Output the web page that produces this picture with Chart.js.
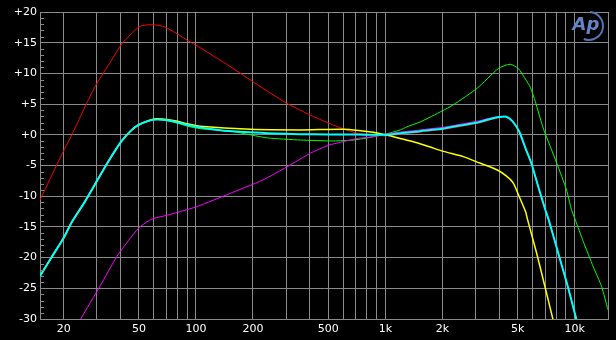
<!DOCTYPE html>
<html>
<head>
<meta charset="utf-8">
<script src="https://cdn.jsdelivr.net/npm/chart.js@4.4.1/dist/chart.umd.min.js"></script>
<style>
  html, body { margin: 0; padding: 0; background: #000; }
  canvas { display: block; }
</style>
</head>
<body>
<canvas id="response" width="616" height="340"></canvas>
<script>
// frequency response curves (Hz / dB)
const cyanHz = [15, 17.3, 20, 22.1, 26, 30, 34.5, 40.5, 45.8, 49.7, 56.2, 62, 70, 80, 90, 105, 150, 240, 356, 500, 700, 1000, 1200, 1500, 1730, 2000, 2580, 3150, 3500, 4000, 4350, 4700, 5100, 5500, 5900, 6500, 7000, 7300, 8300, 9200, 10200, 11000];
const cyanDb = [-23, -19.9, -16.8, -14.2, -10.8, -7.5, -4.3, -1.0, 0.8, 1.6, 2.3, 2.5, 2.4, 2.0, 1.6, 1.2, 0.6, 0.25, 0.1, 0.05, 0.05, 0, 0.25, 0.55, 0.8, 1.0, 1.6, 2.1, 2.5, 2.9, 2.95, 2.2, 0.5, -2.2, -4.6, -9, -12.2, -13.9, -19.9, -24.7, -30, -34];

const magentaHz = [15, 20, 24.6, 31.2, 38.2, 44.1, 49.7, 56.2, 60, 70.3, 82.7, 101, 150, 224, 303, 402, 502, 602, 709, 865, 1000, 1200, 1500, 1730, 2000, 2580, 3150, 3500, 4000, 4350, 4700, 5100, 5500, 5900, 6500, 7000, 7300, 8300, 9200, 10200, 11000];
const magentaDb = [-41, -35, -30, -24.6, -19.8, -17.2, -15.2, -14.0, -13.6, -13.1, -12.5, -11.7, -9.6, -7.4, -5.2, -3.0, -1.7, -1.1, -0.6, -0.3, 0.1, 0.45, 0.75, 1.0, 1.2, 1.8, 2.3, 2.65, 2.95, 2.95, 2.2, 0.5, -2.2, -4.6, -9, -12.2, -13.9, -19.9, -24.7, -30, -34];

const greenHz = [15, 17.3, 20, 22.1, 26, 30, 34.5, 40.5, 45.8, 49.7, 56.2, 62, 70, 80, 90, 105, 158, 238, 356, 534, 681, 870, 1000, 1200, 1300, 1530, 2000, 2290, 3060, 3955, 4560, 5040, 5540, 5840, 6200, 6820, 8040, 9060, 9620, 10090, 11110, 12540, 13870, 15000];
const greenDb = [-23, -19.9, -16.8, -14.2, -10.8, -7.5, -4.3, -1.0, 0.8, 1.6, 2.3, 2.5, 2.3, 1.9, 1.4, 1.0, 0.5, -0.5, -0.85, -1.0, -0.85, -0.3, 0.1, 0.8, 1.3, 2.1, 3.9, 4.9, 7.6, 10.8, 11.5, 10.8, 8.9, 7.7, 5.4, 1.1, -4.6, -9, -12.2, -13.9, -17.4, -21.5, -24.7, -28.5];

const yellowHz = [15, 17.3, 20, 22.1, 26, 30, 34.5, 40.5, 45.8, 49.7, 56.2, 62, 70, 80, 90, 105, 194, 356, 600, 725, 865, 1000, 1200, 1470, 1730, 2030, 2600, 3150, 3880, 4350, 4750, 5100, 5500, 5650, 6300, 7000, 7670, 8200];
const yellowDb = [-23, -19.9, -16.8, -14.2, -10.8, -7.5, -4.3, -1.0, 0.8, 1.6, 2.3, 2.6, 2.5, 2.2, 1.8, 1.4, 0.9, 0.8, 0.9, 0.7, 0.4, 0, -0.6, -1.3, -2.0, -2.7, -3.6, -4.6, -5.7, -6.7, -7.9, -10.1, -12.5, -13.9, -19.3, -25, -30, -34];

const redHz = [15, 18.2, 20, 22.1, 24.3, 27, 30, 35.4, 40.8, 50, 55, 61, 68, 80, 90, 105, 150, 233, 303, 402, 502, 602, 709, 865, 1000, 1200, 1500, 1730, 2000, 2580, 3150, 3500, 4000, 4350, 4700, 5100, 5500, 5900, 6500, 7000, 7300, 8300, 9200, 10200, 11000];
const redDb = [-10.6, -5.2, -2.6, 0, 2.7, 5.7, 8.4, 11.9, 14.9, 17.6, 17.9, 17.9, 17.6, 16.4, 15.4, 14.2, 11.2, 7.3, 5.1, 3.2, 1.9, 0.95, 0.25, 0, -0.2, 0.1, 0.4, 0.65, 0.85, 1.45, 1.95, 2.35, 2.8, 2.9, 2.2, 0.5, -2.2, -4.6, -9, -12.2, -13.9, -19.9, -24.7, -30, -34];

// axis ticks
const gridHz = [15, 20, 30, 40, 50, 60, 70, 80, 90, 100, 200, 300, 400, 500, 600, 700, 800, 900, 1000, 2000, 3000, 4000, 5000, 6000, 7000, 8000, 9000, 10000, 15000];
const labelHz = { 20: '20', 50: '50', 100: '100', 200: '200', 500: '500', 1000: '1k', 2000: '2k', 5000: '5k', 10000: '10k' };

const GRID = '#8a8a8a';

function pts(hz, db) {
    return hz.map((f, i) => ({ x: f, y: db[i] }));
}

function line(hz, db, color, width) {
    return {
        data: pts(hz, db),
        borderColor: color,
        borderWidth: width,
        pointRadius: 0,
        fill: false,
        tension: 0.2
    };
}

// little 1 dB ticks on the inside of the left edge, and the AP mark
const extras = {
    id: 'extras',
    afterDraw(chart) {
        const ctx = chart.ctx;
        const y = chart.scales.y;
        const left = chart.chartArea.left;
        ctx.save();
        ctx.strokeStyle = GRID;
        ctx.lineWidth = 1;
        ctx.beginPath();
        for (let v = -29; v < 20; v++) {
            if (v % 5 === 0) continue;
            const py = Math.round(y.getPixelForValue(v)) + 0.5;
            ctx.moveTo(left, py);
            ctx.lineTo(left + 4, py);
        }
        ctx.stroke();

        ctx.strokeStyle = '#5574b8';
        ctx.lineWidth = 2;
        ctx.beginPath();
        ctx.arc(589, 26, 14, -1.5, 1.95);
        ctx.stroke();
        ctx.fillStyle = '#6585c8';
        ctx.font = 'italic bold 18px "DejaVu Sans"';
        ctx.textAlign = 'center';
        ctx.textBaseline = 'middle';
        ctx.fillText('Ap', 586, 25);
        ctx.restore();
    }
};

new Chart(document.getElementById('response'), {
    type: 'line',
    data: {
        datasets: [
            line(cyanHz, cyanDb, '#00ffff', 2),
            line(magentaHz, magentaDb, '#ff00ff', 1),
            line(greenHz, greenDb, '#00ff00', 1),
            line(yellowHz, yellowDb, '#ffff00', 1.5),
            line(redHz, redDb, '#ff0000', 1)
        ]
    },
    options: {
        responsive: false,
        animation: false,
        layout: { padding: { top: 12, right: 8, left: 0, bottom: 0 } },
        plugins: { legend: { display: false }, tooltip: { enabled: false } },
        scales: {
            x: {
                type: 'logarithmic',
                min: 15,
                max: 15000,
                afterBuildTicks: (s) => { s.ticks = gridHz.map(v => ({ value: v })); },
                afterFit: (s) => { s.height = 21; },
                grid: { color: GRID, lineWidth: 1, drawTicks: false },
                border: { color: GRID },
                ticks: {
                    color: '#fff',
                    font: { family: 'DejaVu Sans', size: 11 },
                    padding: 4,
                    autoSkip: false,
                    maxRotation: 0,
                    callback: (v) => labelHz[v] || ''
                }
            },
            y: {
                min: -30,
                max: 20,
                afterFit: (s) => { s.width = 40; },
                grid: { color: GRID, lineWidth: 1, drawTicks: false },
                border: { color: GRID },
                ticks: {
                    stepSize: 5,
                    color: '#fff',
                    font: { family: 'DejaVu Sans', size: 11 },
                    padding: 3,
                    callback: (v) => v >= 0 ? '+' + v : String(v)
                }
            }
        }
    },
    plugins: [extras]
});
</script>
</body>
</html>
